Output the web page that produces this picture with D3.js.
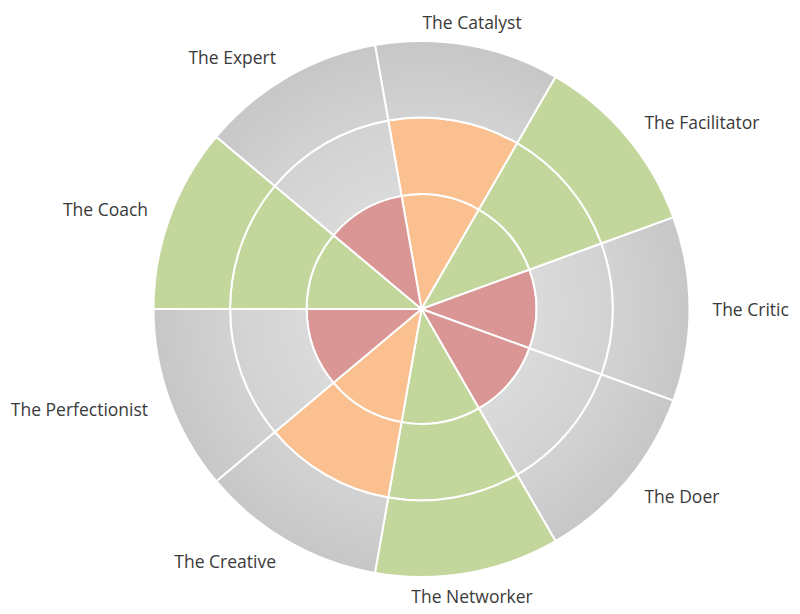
<!DOCTYPE html>
<html>
<head>
<meta charset="utf-8">
<script src="https://cdn.jsdelivr.net/npm/d3@7"></script>
<style>
  html, body { margin: 0; padding: 0; background: #fff; }
  svg { display: block; }
  text { font-family: "Open Sans", sans-serif; }
</style>
</head>
<body>
<svg id="chart" width="800" height="614"></svg>
<script>
// ---- data ----
const categories = ["The Catalyst", "The Facilitator", "The Critic", "The Doer", "The Networker",
                    "The Creative", "The Perfectionist", "The Coach", "The Expert"];
const scores = [2, 3, 1, 1, 3, 2, 1, 3, 1];          // achieved level per category
const ringLevels = ["Level 1", "Level 2", "Level 3"];
const ringValues = [1, 1, 1];                          // height of each stacked ring
const yMin = -0.5;
const yMax = 3;
const scoreColors = ["#D99694", "#FAC090", "#C3D69B"]; // colour for score 1, 2, 3

// ---- layout ----
const width = 800, height = 614;
const cx = 421.5, cy = 309;
const outerR = 268;
const startAngle = -Math.PI / 18; // -10°

const svg = d3.select("#chart");

const defs = svg.append("defs");
const grad = defs.append("radialGradient")
  .attr("id", "grayGrad")
  .attr("gradientUnits", "userSpaceOnUse")
  .attr("cx", 0).attr("cy", 0).attr("r", outerR);
[[0, "#e2e2e2"], [0.43, "#dadada"], [0.72, "#d2d2d2"], [1, "#c7c7c7"]].forEach(([o, c]) =>
  grad.append("stop").attr("offset", o).attr("stop-color", c));

const x = d3.scaleBand()
  .domain(categories)
  .range([startAngle, startAngle + 2 * Math.PI])
  .padding(0);

const y = d3.scaleLinear()
  .domain([yMin, yMax])
  .range([0, outerR]);

// stacked cells
const cells = [];
categories.forEach((cat, i) => {
  let base = 0;
  ringValues.forEach((v, li) => {
    cells.push({ cat, level: li + 1, y0: base, y1: base + v, score: scores[i] });
    base += v;
  });
});

const arc = d3.arc()
  .innerRadius(d => d.y0 === 0 ? y(yMin) : y(d.y0))
  .outerRadius(d => y(d.y1))
  .startAngle(d => x(d.cat))
  .endAngle(d => x(d.cat) + x.bandwidth());

const g = svg.append("g").attr("transform", `translate(${cx},${cy})`);

g.selectAll("path.cell")
  .data(cells)
  .join("path")
  .attr("class", "cell")
  .attr("d", arc)
  .attr("fill", d => d.level <= d.score ? scoreColors[d.score - 1] : "url(#grayGrad)")
  .attr("stroke", "#ffffff")
  .attr("stroke-width", 2)
  .attr("stroke-linejoin", "round");

// category labels
const labelR = 291;
g.selectAll("text.lab")
  .data(categories)
  .join("text")
  .attr("class", "lab")
  .each(function(d) {
    const a = x(d) + x.bandwidth() / 2;
    const deg = ((a * 180 / Math.PI) % 360 + 360) % 360;
    const px = labelR * Math.sin(a);
    const py = -labelR * Math.cos(a) + 7;
    let anchor = "middle";
    if (deg > 20 && deg < 160) anchor = "start";
    else if (deg > 200 && deg < 340) anchor = "end";
    d3.select(this)
      .attr("x", px).attr("y", py)
      .attr("text-anchor", anchor);
  })
  .attr("font-size", 17.5)
  .attr("fill", "#3a3a3a")
  .text(d => d);
</script>
</body>
</html>
